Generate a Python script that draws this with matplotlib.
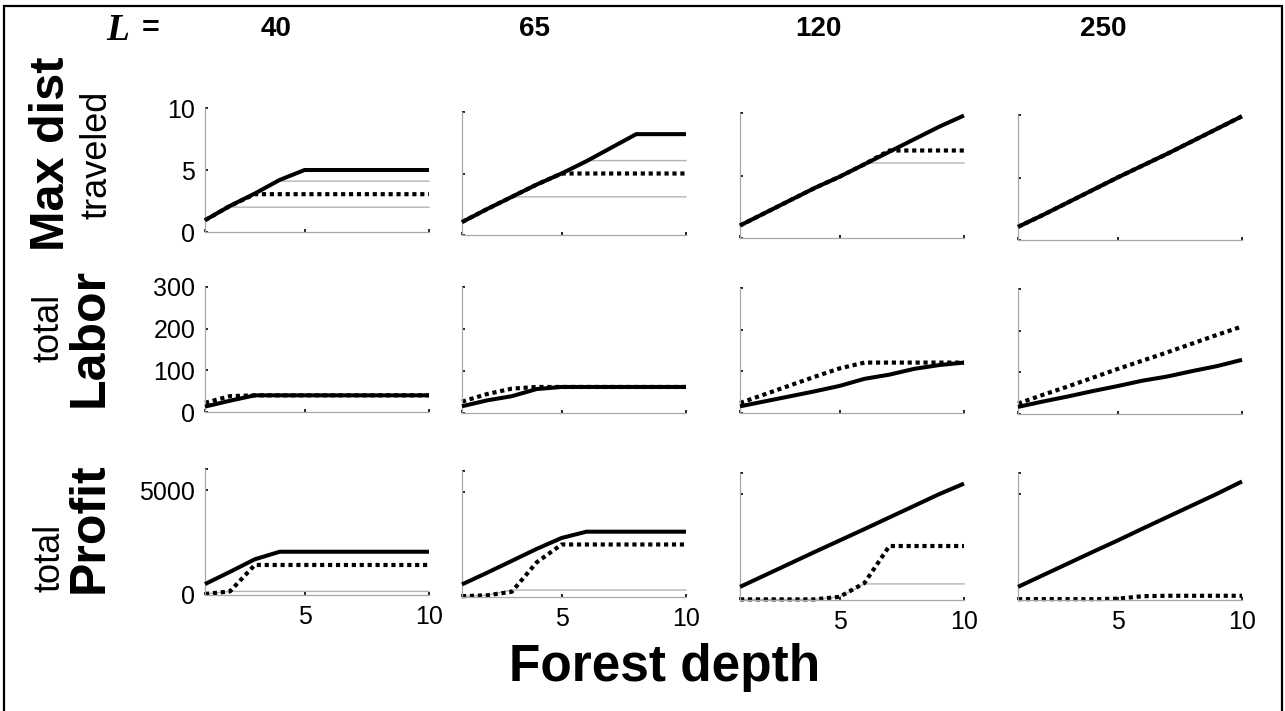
import numpy as np
import matplotlib
matplotlib.use("Agg")
import matplotlib.pyplot as plt
from matplotlib.patches import Rectangle

plt.rcParams['font.family'] = ['Liberation Sans', 'DejaVu Sans']

# forest depth on the x axis, one column per L
depth = [1, 2, 3, 4, 5, 6, 7, 8, 9, 10]
L_values = ['40', '65', '120', '250']

# row 1: max dist traveled
dist_solid = [[0.95, 2.1, 3.1, 4.2, 5.0, 5.0, 5.0, 5.0, 5.0, 5.0],
              [1.05, 2.1, 3.1, 4.1, 5.0, 6.0, 7.1, 8.2, 8.2, 8.2],
              [1.0, 2.0, 3.0, 4.0, 4.9, 5.9, 6.9, 7.9, 8.9, 9.8],
              [1.05, 2.0, 3.0, 4.0, 5.0, 5.95, 6.9, 7.9, 8.9, 9.9]]
dist_dotted = [[0.95, 2.1, 3.05, 3.05, 3.05, 3.05, 3.05, 3.05, 3.05, 3.05],
               [1.05, 2.1, 3.1, 4.1, 5.0, 5.0, 5.0, 5.0, 5.0, 5.0],
               [1.0, 2.0, 3.0, 4.0, 4.9, 5.9, 7.0, 7.0, 7.0, 7.0],
               [1.05, 2.0, 3.0, 4.0, 5.0, 5.95, 6.9, 7.9, 8.9, 9.9]]
dist_gray = [[[0.95, 2.0, 2.0, 2.0, 2.0, 2.0, 2.0, 2.0, 2.0, 2.0],
              [0.95, 2.1, 3.1, 4.1, 4.1, 4.1, 4.1, 4.1, 4.1, 4.1]],
             [[1.05, 2.1, 3.1, 3.1, 3.1, 3.1, 3.1, 3.1, 3.1, 3.1],
              [1.05, 2.1, 3.1, 4.1, 5.0, 6.05, 6.05, 6.05, 6.05, 6.05]],
             [[1.0, 2.0, 3.0, 4.0, 4.9, 6.0, 6.0, 6.0, 6.0, 6.0]],
             []]

# row 2: total labor
labor_solid = [[13, 27, 40, 40, 40, 40, 40, 40, 40, 40],
               [16, 30, 40, 57, 62, 62, 62, 62, 62, 62],
               [16, 28, 40, 52, 65, 82, 92, 106, 115, 121],
               [17, 30, 42, 55, 67, 80, 90, 103, 115, 130]]
labor_dotted = [[22, 38, 40, 40, 40, 40, 40, 40, 40, 40],
                [27, 45, 58, 62, 62, 62, 62, 62, 62, 62],
                [24, 45, 66, 87, 107, 121, 121, 121, 121, 121],
                [25, 46, 66, 87, 108, 128, 148, 169, 190, 210]]

# row 3: total profit
profit_solid = [[520, 1100, 1700, 2060, 2060, 2060, 2060, 2060, 2060, 2060],
                [600, 1150, 1720, 2290, 2810, 3110, 3110, 3110, 3110, 3110],
                [620, 1170, 1720, 2270, 2810, 3350, 3900, 4450, 5000, 5500],
                [620, 1170, 1720, 2270, 2810, 3370, 3920, 4470, 5020, 5600]]
profit_dotted = [[50, 170, 1430, 1430, 1430, 1430, 1430, 1430, 1430, 1430],
                 [40, 80, 250, 1650, 2500, 2500, 2500, 2500, 2500, 2500],
                 [30, 30, 30, 30, 150, 800, 2550, 2550, 2550, 2550],
                 [40, 40, 40, 40, 60, 180, 200, 200, 200, 200]]
profit_gray = [[[50, 170, 170, 170, 170, 170, 170, 170, 170, 170]],
               [[40, 80, 330, 330, 330, 330, 330, 330, 330, 330]],
               [[30, 30, 30, 30, 150, 760, 760, 760, 760, 760]],
               []]

rows = [(dist_solid, dist_dotted, dist_gray, [0, 5, 10], ['0', '5', '10'], 10),
        (labor_solid, labor_dotted, None, [0, 100, 200, 300], ['0', '100', '200', '300'], 300),
        (profit_solid, profit_dotted, profit_gray, [0, 5000, 6000], ['0', '5000', ''], 6000)]

W, H = 1285, 711
col_left = [205, 462, 740, 1018]
# (top, bottom) in pixels for each row and column
row_box = [[(108, 232), (112, 235), (113, 238), (115, 240)],
           [(287, 412), (287, 413), (288, 413), (289, 414)],
           [(469, 595), (471, 597), (473, 600), (473, 600)]]

fig = plt.figure(figsize=(W / 100, H / 100), dpi=100)

for r, (solid, dotted, gray, yt, ytl, ymax) in enumerate(rows):
    for c in range(4):
        top, bot = row_box[r][c]
        ax = fig.add_axes([col_left[c] / W, 1 - bot / H, 224 / W, (bot - top) / H])
        if gray is not None:
            for g in gray[c]:
                ax.plot(depth, g, color='#b4b4b4', lw=1.0, clip_on=False, zorder=1)
        ax.plot(depth, dotted[c], color='black', lw=3.0, linestyle=(0, (1, 0.9)),
                clip_on=False, zorder=2)
        ax.plot(depth, solid[c], color='black', lw=2.9, clip_on=False, zorder=3,
                solid_capstyle='butt')
        ax.set_xlim(1, 10)
        ax.set_ylim(0, ymax)
        for s in ['top', 'right']:
            ax.spines[s].set_visible(False)
        for s in ['left', 'bottom']:
            ax.spines[s].set_color('#a8a8a8')
            ax.spines[s].set_linewidth(0.9)
        ax.set_xticks([1, 5, 10])
        ax.set_yticks(yt)
        ax.tick_params(direction='in', length=2.5, width=1.2, color='black',
                       labelsize=18, pad=7)
        if c == 0:
            ax.set_yticklabels(ytl)
        else:
            ax.set_yticklabels([])
        if r == 2:
            ax.set_xticklabels(['', '5', '10'])
        else:
            ax.set_xticklabels([])
        ax.patch.set_visible(False)

# row labels
fig.text(52 / W, 1 - 154 / H, 'Max dist', rotation=90, fontsize=35,
         fontweight='bold', ha='center', va='center')
fig.text(97 / W, 1 - 155 / H, 'traveled', rotation=90, fontsize=26,
         ha='center', va='center')
fig.text(49 / W, 1 - 328 / H, 'total', rotation=90, fontsize=26,
         ha='center', va='center')
fig.text(90 / W, 1 - 337 / H, 'Labor', rotation=90, fontsize=36,
         fontweight='bold', ha='center', va='center')
fig.text(50 / W, 1 - 558 / H, 'total', rotation=90, fontsize=26,
         ha='center', va='center')
fig.text(90 / W, 1 - 528 / H, 'Profit', rotation=90, fontsize=36,
         fontweight='bold', ha='center', va='center')

# column headers
fig.text(118 / W, 1 - 31 / H, 'L', fontsize=27, fontweight='bold', style='italic',
         family='Liberation Serif', ha='center', va='center')
fig.text(151 / W, 1 - 29 / H, '=', fontsize=22, fontweight='bold',
         ha='center', va='center')
for xc, lab in zip([276, 535, 818, 1103], L_values):
    fig.text(xc / W, 1 - 29 / H, lab, fontsize=20, fontweight='bold',
             ha='center', va='center')

fig.text(665 / W, 1 - 667 / H, 'Forest depth', fontsize=37, fontweight='bold',
         ha='center', va='center')

# frame around the figure
fig.patches.append(Rectangle((4 / W, -0.05), 1278 / W, 1.05 - 6 / H,
                             transform=fig.transFigure, fill=False,
                             edgecolor='black', lw=1.6))

fig.savefig('out.png', dpi=100)
